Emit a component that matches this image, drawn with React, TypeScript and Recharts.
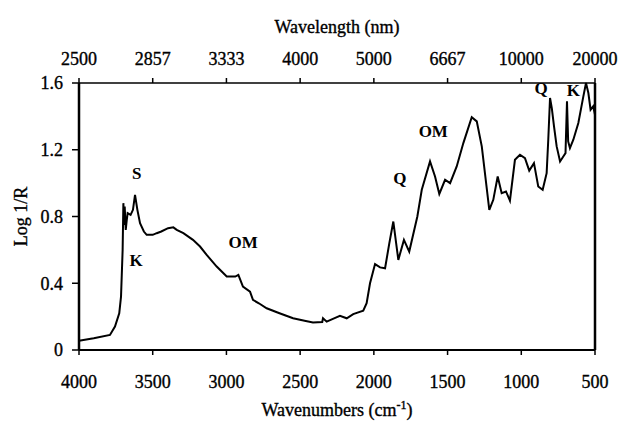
import React from 'react';
import { LineChart, Line, XAxis, YAxis, ReferenceDot, ReferenceLine } from 'recharts';

// spectrum (wavenumber in cm-1, Log 1/R)
const wavenumbers = [
  4000, 3900, 3790, 3756, 3727, 3715, 3704, 3699, 3694, 3690, 3683, 3676, 3670, 3650, 3634,
  3620, 3604, 3586, 3560, 3541, 3500, 3473, 3442, 3396, 3360, 3337, 3292, 3227, 3179, 3134,
  3066, 2998, 2940, 2919, 2888, 2840, 2820, 2780, 2727, 2640, 2548, 2470, 2413, 2350, 2345,
  2320, 2270, 2230, 2184, 2140, 2072, 2049, 2026, 1992, 1958, 1924, 1895, 1868, 1834, 1796,
  1760, 1705, 1675, 1619, 1585, 1556, 1517, 1483, 1438, 1393, 1336, 1302, 1268, 1217, 1190,
  1160, 1133, 1104, 1077, 1043, 1009, 975, 946, 914, 885, 855, 828, 817, 805, 793,
  778, 760, 737, 715, 700, 690, 682, 670, 647, 613, 579, 561, 545, 530, 512,
  500,
];
const logR = [
  0.056, 0.07, 0.09, 0.14, 0.22, 0.32, 0.6, 0.88, 0.75, 0.86, 0.72, 0.78, 0.82, 0.81, 0.84,
  0.93, 0.84, 0.76, 0.71, 0.69, 0.69, 0.7, 0.71, 0.73, 0.735, 0.72, 0.7, 0.66, 0.62, 0.57,
  0.5, 0.44, 0.44, 0.45, 0.38, 0.35, 0.3, 0.28, 0.25, 0.22, 0.19, 0.175, 0.165, 0.168, 0.19,
  0.17, 0.19, 0.205, 0.19, 0.215, 0.235, 0.28, 0.4, 0.515, 0.495, 0.49, 0.64, 0.77, 0.54, 0.66,
  0.59, 0.8, 0.96, 1.13, 1.04, 0.935, 1.02, 1.0, 1.1, 1.24, 1.395, 1.37, 1.22, 0.84, 0.9,
  1.04, 0.94, 0.95, 0.895, 1.14, 1.17, 1.15, 1.075, 1.12, 0.98, 0.96, 1.06, 1.26, 1.51, 1.45,
  1.34, 1.22, 1.13, 1.16, 1.18, 1.49, 1.25, 1.21, 1.26, 1.36, 1.52, 1.6, 1.54, 1.44, 1.46,
  1.41,
];

const wavenumberTicks = [4000, 3500, 3000, 2500, 2000, 1500, 1000, 500];
const wavelengthLabels = ['2500', '2857', '3333', '4000', '5000', '6667', '10000', '20000'];
const logRTicks = [0, 0.4, 0.8, 1.2, 1.6];

// band annotations
const annotationText = ['S', 'K', 'OM', 'Q', 'OM', 'Q', 'K'];
const annotationWavenumber = [3609, 3613, 2886, 1823, 1597, 866, 647];
const annotationLogR = [1.06, 0.54, 0.65, 1.03, 1.31, 1.57, 1.56];

const data = wavenumbers.map((wn, i) => ({ wn, value: logR[i] }));
const annotations = annotationText.map((text, i) => ({
  text,
  wn: annotationWavenumber[i],
  value: annotationLogR[i],
}));

const FONT = '"Liberation Serif", "Times New Roman", serif';
// slight stroke to get the heavy look of the scanned print
const tickStyle = { fill: '#000', stroke: '#000', strokeWidth: 0.35, fontSize: 18, fontFamily: FONT };

const BottomTitle = ({ viewBox }: any) => (
  <text
    x={viewBox.x + viewBox.width / 2}
    y={viewBox.y + 66}
    textAnchor="middle"
    fill="#000"
    stroke="#000"
    strokeWidth={0.35}
    fontSize={18}
    fontFamily={FONT}
  >
    <tspan>Wavenumbers (cm</tspan>
    <tspan dy={-7} fontSize={12}>-1</tspan>
    <tspan dy={7}>)</tspan>
  </text>
);

const TopTitle = ({ viewBox }: any) => (
  <text
    x={viewBox.x + viewBox.width / 2}
    y={33}
    textAnchor="middle"
    fill="#000"
    stroke="#000"
    strokeWidth={0.35}
    fontSize={18}
    fontFamily={FONT}
  >
    Wavelength (nm)
  </text>
);

const SideTitle = ({ viewBox }: any) => {
  const cx = 21;
  const cy = viewBox.y + viewBox.height / 2;
  return (
    <text
      x={cx}
      y={cy}
      transform={`rotate(-90, ${cx}, ${cy})`}
      textAnchor="middle"
      dominantBaseline="central"
      fill="#000"
      stroke="#000"
      strokeWidth={0.35}
      fontSize={18}
      fontFamily={FONT}
    >
      Log 1/R
    </text>
  );
};

export default function App() {
  return (
    <div style={{ position: 'absolute', left: 0, top: 0, background: '#fff' }}>
      <LineChart width={622} height={421} data={data} margin={{ top: 0, right: 27, bottom: 0, left: 0 }}>
        <XAxis
          dataKey="wn"
          type="number"
          domain={[500, 4000]}
          reversed
          ticks={wavenumberTicks}
          interval={0}
          height={71}
          tick={tickStyle}
          tickSize={5}
          tickMargin={20}
          axisLine={{ stroke: '#000', strokeWidth: 2 }}
          tickLine={{ stroke: '#000', strokeWidth: 1.5 }}
          label={<BottomTitle />}
        />
        <XAxis
          xAxisId="top"
          orientation="top"
          dataKey="wn"
          type="number"
          domain={[500, 4000]}
          reversed
          ticks={wavenumberTicks}
          interval={0}
          height={83}
          tick={tickStyle}
          tickSize={5}
          tickMargin={13}
          tickFormatter={(v: number) => wavelengthLabels[wavenumberTicks.indexOf(v)]}
          axisLine={{ stroke: '#000', strokeWidth: 1.5 }}
          tickLine={{ stroke: '#000', strokeWidth: 1.5 }}
          label={<TopTitle />}
        />
        <YAxis
          type="number"
          domain={[0, 1.6]}
          ticks={logRTicks}
          interval={0}
          width={79}
          tick={tickStyle}
          tickSize={7}
          tickMargin={9}
          tickFormatter={(v: number) => (v === 0 ? '0' : v.toFixed(1))}
          axisLine={{ stroke: '#000', strokeWidth: 2.5 }}
          tickLine={{ stroke: '#000', strokeWidth: 1.5 }}
          label={<SideTitle />}
        />
        <ReferenceLine x={500} stroke="#000" strokeWidth={2.5} />
        <Line
          type="linear"
          dataKey="value"
          stroke="#000"
          strokeWidth={2}
          dot={false}
          isAnimationActive={false}
        />
        {annotations.map((a) => (
          <ReferenceDot
            key={a.text + a.wn}
            x={a.wn}
            y={a.value}
            r={0}
            fill="none"
            stroke="none"
            label={{ value: a.text, position: 'center', fill: '#000', fontSize: 17, fontFamily: FONT, fontWeight: 'bold' }}
          />
        ))}
      </LineChart>
    </div>
  );
}
